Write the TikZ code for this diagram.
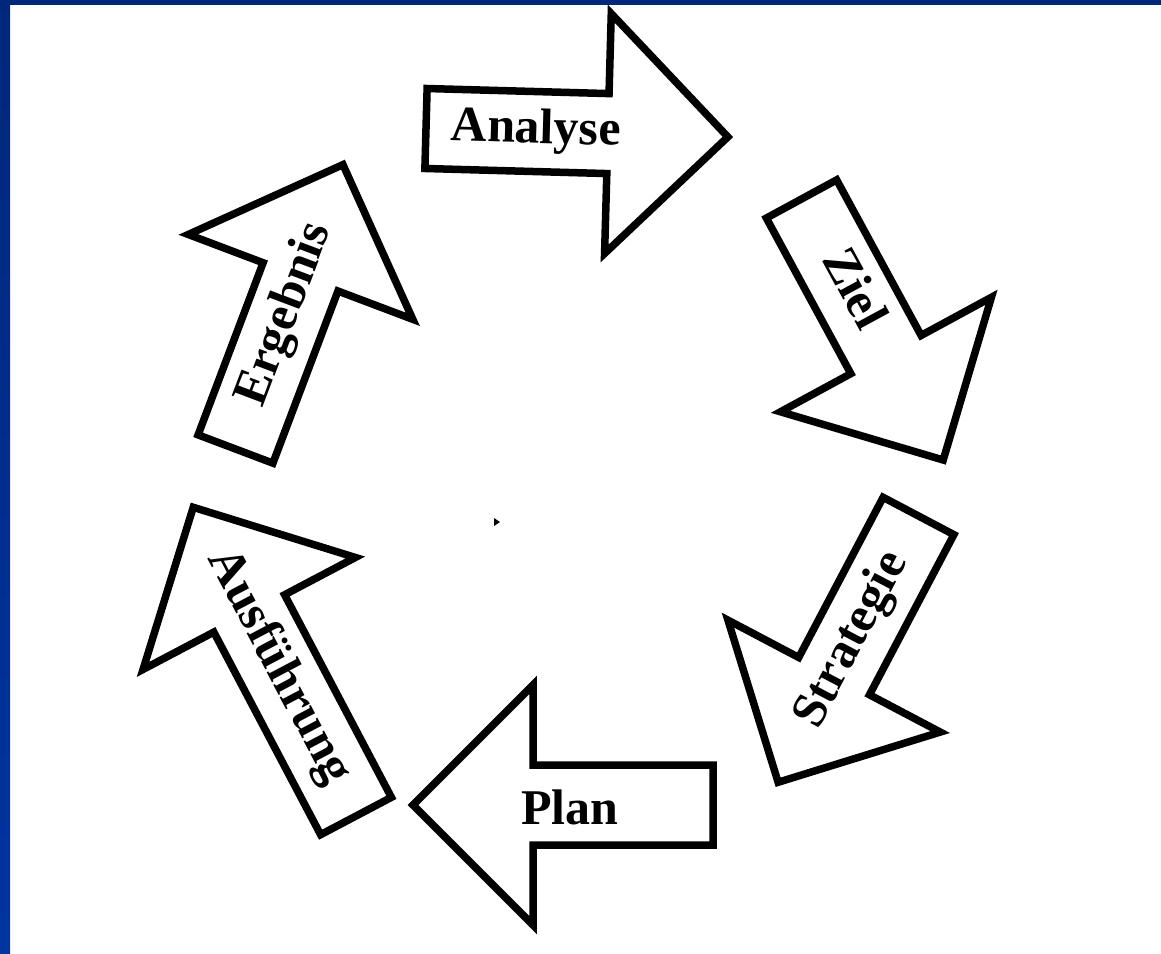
\documentclass[tikz,border=0pt]{standalone}
\usepackage{fontspec}
\setmainfont{Liberation Serif}
\definecolor{framedark}{HTML}{00287A}
\definecolor{framelight}{HTML}{0034A2}

% One block arrow of the cycle:
% #1 name, #2 middle of the back edge, #3 direction (deg), #4 total length,
% #5 label position in the arrow's own frame, #6 extra label turn, #7 label
\newcommand\cyclearrow[7]{%
  \begin{scope}[shift={#2}, rotate=#3]
    \draw[arrowline] (0,-\shafthalf) -- ({#4-\headlen},-\shafthalf)
      -- ({#4-\headlen},-\headhalf) -- (#4,0) -- ({#4-\headlen},\headhalf)
      -- ({#4-\headlen},\shafthalf) -- (0,\shafthalf) -- cycle;
    \node[arrowlabel, rotate={#3+#6}] (#1) at #5 {#7};
  \end{scope}}
\newcommand\shafthalf{40}
\newcommand\headhalf{120}
\newcommand\headlen{120}

\begin{document}
\begin{tikzpicture}[x=1pt, y=-1pt,
  arrowline/.style={draw=black, line width=7.5pt, line join=miter, fill=white},
  arrowlabel/.style={inner sep=0pt, text height=34pt, text depth=11pt,
    font=\bfseries\fontsize{50}{60}\selectfont}]
  \useasboundingbox (0,0) rectangle (1161,953);
  \fill[white] (0,0) rectangle (1161,953);
  % blue frame on the top and left edges
  \fill[framedark] (0,0) rectangle (1161,5);
  \shade[top color=framedark, bottom color=framelight] (0,0) rectangle (10,953);

  \cyclearrow{analyse}{(426,128.5)}{-1.6}{302}{(110,0)}{0}{Analyse}
  \cyclearrow{ziel}{(801.5,199)}{-61.5}{297}{(104,0)}{0}{Ziel}
  \cyclearrow{strategie}{(918.5,516)}{-117.8}{301}{(141,0)}{180}{Strategie}
  \cyclearrow{plan}{(713,805)}{180}{300}{(143,-8)}{180}{Plan}
  \cyclearrow{ausfuehrung}{(356,816)}{117.8}{349}{(168,0)}{180}{Ausführung}
  \cyclearrow{ergebnis}{(235.5,449)}{69.3}{304}{(143,0)}{0}{Ergebnis}

  % small speck in the middle of the cycle
  \fill[black] (494,518) -- (500,522) -- (494,526) -- cycle;
\end{tikzpicture}
\end{document}
